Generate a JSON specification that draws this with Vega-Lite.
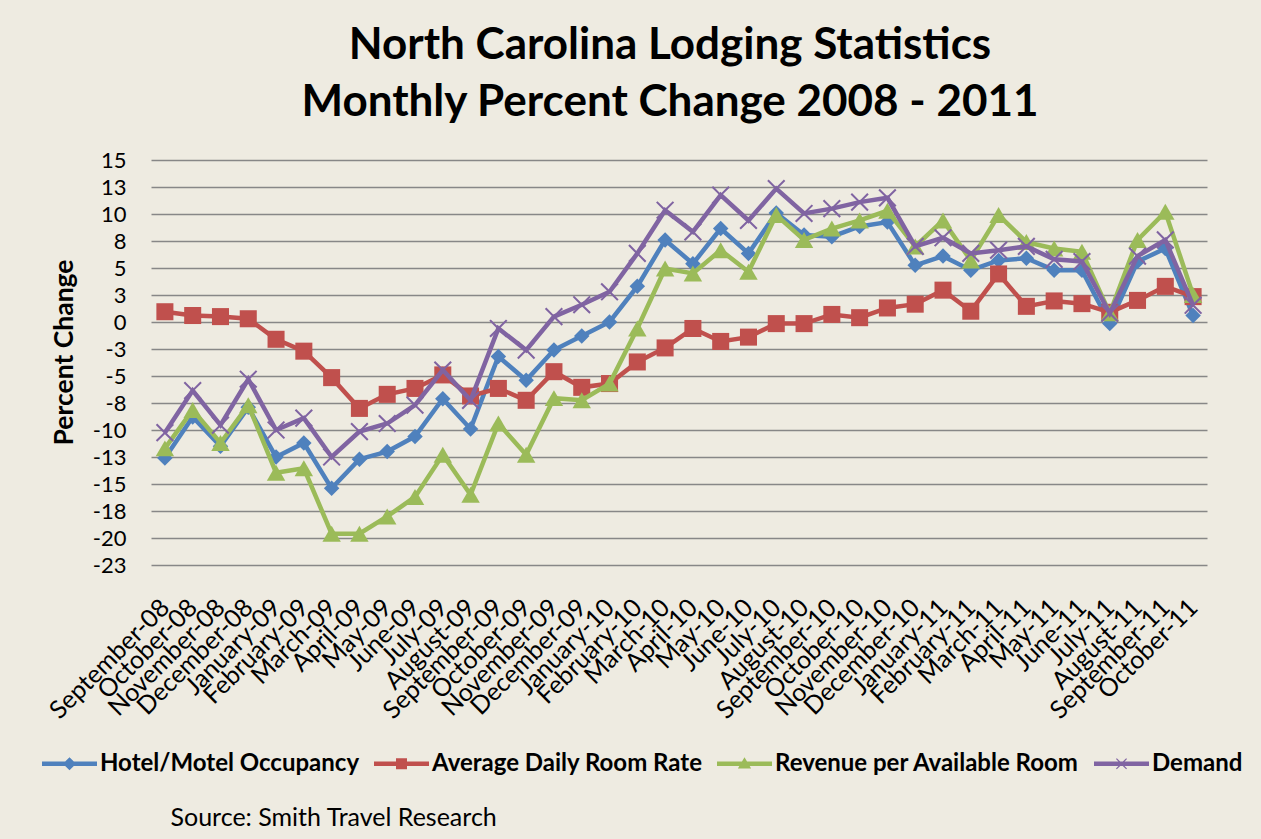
{
  "$schema": "https://vega.github.io/schema/vega-lite/v6.json",
  "width": 1056,
  "height": 405,
  "autosize": {"type": "none"},
  "padding": {"left": 151, "top": 160, "right": 54, "bottom": 274},
  "background": "#EEEBE1",
  "config": {
    "view": {"stroke": null},
    "font": "Lato",
    "legend": {
      "orient": "none",
      "legendX": -109,
      "legendY": 576,
      "direction": "horizontal",
      "padding": 0,
      "title": null,
      "labelFont": "Lato",
      "labelFontSize": 24,
      "labelFontWeight": "bold",
      "labelColor": "#000000",
      "labelLimit": 0,
      "symbolSize": 3025,
      "symbolOpacity": 1,
      "symbolStrokeWidth": 0,
      "columnPadding": 14,
      "labelOffset": 3
    }
  },
  "title": {
    "text": ["North Carolina Lodging Statistics", "Monthly Percent Change 2008 - 2011"],
    "font": "Lato",
    "fontSize": 44,
    "fontWeight": "bold",
    "color": "#000000",
    "anchor": "middle",
    "lineHeight": 57,
    "offset": 24,
    "dx": -9
  },
  "data": {
    "values": [
      {"m": "September-08", "s": "Hotel/Motel Occupancy", "v": -12.6},
      {"m": "October-08", "s": "Hotel/Motel Occupancy", "v": -8.8},
      {"m": "November-08", "s": "Hotel/Motel Occupancy", "v": -11.5},
      {"m": "December-08", "s": "Hotel/Motel Occupancy", "v": -7.9},
      {"m": "January-09", "s": "Hotel/Motel Occupancy", "v": -12.5},
      {"m": "February-09", "s": "Hotel/Motel Occupancy", "v": -11.2},
      {"m": "March-09", "s": "Hotel/Motel Occupancy", "v": -15.4},
      {"m": "April-09", "s": "Hotel/Motel Occupancy", "v": -12.7},
      {"m": "May-09", "s": "Hotel/Motel Occupancy", "v": -12.0},
      {"m": "June-09", "s": "Hotel/Motel Occupancy", "v": -10.6},
      {"m": "July-09", "s": "Hotel/Motel Occupancy", "v": -7.1},
      {"m": "August-09", "s": "Hotel/Motel Occupancy", "v": -9.9},
      {"m": "September-09", "s": "Hotel/Motel Occupancy", "v": -3.2},
      {"m": "October-09", "s": "Hotel/Motel Occupancy", "v": -5.4},
      {"m": "November-09", "s": "Hotel/Motel Occupancy", "v": -2.6},
      {"m": "December-09", "s": "Hotel/Motel Occupancy", "v": -1.3},
      {"m": "January-10", "s": "Hotel/Motel Occupancy", "v": 0.0},
      {"m": "February-10", "s": "Hotel/Motel Occupancy", "v": 3.3},
      {"m": "March-10", "s": "Hotel/Motel Occupancy", "v": 7.6},
      {"m": "April-10", "s": "Hotel/Motel Occupancy", "v": 5.4},
      {"m": "May-10", "s": "Hotel/Motel Occupancy", "v": 8.65},
      {"m": "June-10", "s": "Hotel/Motel Occupancy", "v": 6.35},
      {"m": "July-10", "s": "Hotel/Motel Occupancy", "v": 10.1},
      {"m": "August-10", "s": "Hotel/Motel Occupancy", "v": 8.05},
      {"m": "September-10", "s": "Hotel/Motel Occupancy", "v": 7.9},
      {"m": "October-10", "s": "Hotel/Motel Occupancy", "v": 8.85},
      {"m": "November-10", "s": "Hotel/Motel Occupancy", "v": 9.25},
      {"m": "December-10", "s": "Hotel/Motel Occupancy", "v": 5.25},
      {"m": "January-11", "s": "Hotel/Motel Occupancy", "v": 6.1},
      {"m": "February-11", "s": "Hotel/Motel Occupancy", "v": 4.8},
      {"m": "March-11", "s": "Hotel/Motel Occupancy", "v": 5.7},
      {"m": "April-11", "s": "Hotel/Motel Occupancy", "v": 5.9},
      {"m": "May-11", "s": "Hotel/Motel Occupancy", "v": 4.8},
      {"m": "June-11", "s": "Hotel/Motel Occupancy", "v": 4.8},
      {"m": "July-11", "s": "Hotel/Motel Occupancy", "v": -0.15},
      {"m": "August-11", "s": "Hotel/Motel Occupancy", "v": 5.6},
      {"m": "September-11", "s": "Hotel/Motel Occupancy", "v": 6.8},
      {"m": "October-11", "s": "Hotel/Motel Occupancy", "v": 0.6},
      {"m": "September-08", "s": "Average Daily Room Rate", "v": 0.95},
      {"m": "October-08", "s": "Average Daily Room Rate", "v": 0.6},
      {"m": "November-08", "s": "Average Daily Room Rate", "v": 0.5},
      {"m": "December-08", "s": "Average Daily Room Rate", "v": 0.3},
      {"m": "January-09", "s": "Average Daily Room Rate", "v": -1.6},
      {"m": "February-09", "s": "Average Daily Room Rate", "v": -2.7},
      {"m": "March-09", "s": "Average Daily Room Rate", "v": -5.15},
      {"m": "April-09", "s": "Average Daily Room Rate", "v": -8.0},
      {"m": "May-09", "s": "Average Daily Room Rate", "v": -6.7},
      {"m": "June-09", "s": "Average Daily Room Rate", "v": -6.15},
      {"m": "July-09", "s": "Average Daily Room Rate", "v": -4.9},
      {"m": "August-09", "s": "Average Daily Room Rate", "v": -6.85},
      {"m": "September-09", "s": "Average Daily Room Rate", "v": -6.15},
      {"m": "October-09", "s": "Average Daily Room Rate", "v": -7.25},
      {"m": "November-09", "s": "Average Daily Room Rate", "v": -4.6},
      {"m": "December-09", "s": "Average Daily Room Rate", "v": -6.05},
      {"m": "January-10", "s": "Average Daily Room Rate", "v": -5.7},
      {"m": "February-10", "s": "Average Daily Room Rate", "v": -3.7},
      {"m": "March-10", "s": "Average Daily Room Rate", "v": -2.4},
      {"m": "April-10", "s": "Average Daily Room Rate", "v": -0.6},
      {"m": "May-10", "s": "Average Daily Room Rate", "v": -1.8},
      {"m": "June-10", "s": "Average Daily Room Rate", "v": -1.4},
      {"m": "July-10", "s": "Average Daily Room Rate", "v": -0.15},
      {"m": "August-10", "s": "Average Daily Room Rate", "v": -0.15},
      {"m": "September-10", "s": "Average Daily Room Rate", "v": 0.7},
      {"m": "October-10", "s": "Average Daily Room Rate", "v": 0.4},
      {"m": "November-10", "s": "Average Daily Room Rate", "v": 1.3},
      {"m": "December-10", "s": "Average Daily Room Rate", "v": 1.65},
      {"m": "January-11", "s": "Average Daily Room Rate", "v": 2.95},
      {"m": "February-11", "s": "Average Daily Room Rate", "v": 1.0},
      {"m": "March-11", "s": "Average Daily Room Rate", "v": 4.45},
      {"m": "April-11", "s": "Average Daily Room Rate", "v": 1.45},
      {"m": "May-11", "s": "Average Daily Room Rate", "v": 1.95},
      {"m": "June-11", "s": "Average Daily Room Rate", "v": 1.7},
      {"m": "July-11", "s": "Average Daily Room Rate", "v": 0.9},
      {"m": "August-11", "s": "Average Daily Room Rate", "v": 2.0},
      {"m": "September-11", "s": "Average Daily Room Rate", "v": 3.3},
      {"m": "October-11", "s": "Average Daily Room Rate", "v": 2.35},
      {"m": "September-08", "s": "Revenue per Available Room", "v": -11.7},
      {"m": "October-08", "s": "Revenue per Available Room", "v": -8.15},
      {"m": "November-08", "s": "Revenue per Available Room", "v": -11.2},
      {"m": "December-08", "s": "Revenue per Available Room", "v": -7.7},
      {"m": "January-09", "s": "Revenue per Available Room", "v": -13.95},
      {"m": "February-09", "s": "Revenue per Available Room", "v": -13.55},
      {"m": "March-09", "s": "Revenue per Available Room", "v": -19.6},
      {"m": "April-09", "s": "Revenue per Available Room", "v": -19.6},
      {"m": "May-09", "s": "Revenue per Available Room", "v": -18.0},
      {"m": "June-09", "s": "Revenue per Available Room", "v": -16.2},
      {"m": "July-09", "s": "Revenue per Available Room", "v": -12.3},
      {"m": "August-09", "s": "Revenue per Available Room", "v": -16.0},
      {"m": "September-09", "s": "Revenue per Available Room", "v": -9.4},
      {"m": "October-09", "s": "Revenue per Available Room", "v": -12.3},
      {"m": "November-09", "s": "Revenue per Available Room", "v": -7.05},
      {"m": "December-09", "s": "Revenue per Available Room", "v": -7.25},
      {"m": "January-10", "s": "Revenue per Available Room", "v": -5.7},
      {"m": "February-10", "s": "Revenue per Available Room", "v": -0.6},
      {"m": "March-10", "s": "Revenue per Available Room", "v": 4.95},
      {"m": "April-10", "s": "Revenue per Available Room", "v": 4.5},
      {"m": "May-10", "s": "Revenue per Available Room", "v": 6.65},
      {"m": "June-10", "s": "Revenue per Available Room", "v": 4.65},
      {"m": "July-10", "s": "Revenue per Available Room", "v": 9.9},
      {"m": "August-10", "s": "Revenue per Available Room", "v": 7.6},
      {"m": "September-10", "s": "Revenue per Available Room", "v": 8.65},
      {"m": "October-10", "s": "Revenue per Available Room", "v": 9.4},
      {"m": "November-10", "s": "Revenue per Available Room", "v": 10.3},
      {"m": "December-10", "s": "Revenue per Available Room", "v": 7.0},
      {"m": "January-11", "s": "Revenue per Available Room", "v": 9.4},
      {"m": "February-11", "s": "Revenue per Available Room", "v": 5.7},
      {"m": "March-11", "s": "Revenue per Available Room", "v": 9.9},
      {"m": "April-11", "s": "Revenue per Available Room", "v": 7.4},
      {"m": "May-11", "s": "Revenue per Available Room", "v": 6.8},
      {"m": "June-11", "s": "Revenue per Available Room", "v": 6.5},
      {"m": "July-11", "s": "Revenue per Available Room", "v": 0.8},
      {"m": "August-11", "s": "Revenue per Available Room", "v": 7.6},
      {"m": "September-11", "s": "Revenue per Available Room", "v": 10.2},
      {"m": "October-11", "s": "Revenue per Available Room", "v": 2.5},
      {"m": "September-08", "s": "Demand", "v": -10.25},
      {"m": "October-08", "s": "Demand", "v": -6.35},
      {"m": "November-08", "s": "Demand", "v": -9.55},
      {"m": "December-08", "s": "Demand", "v": -5.3},
      {"m": "January-09", "s": "Demand", "v": -10.0},
      {"m": "February-09", "s": "Demand", "v": -8.9},
      {"m": "March-09", "s": "Demand", "v": -12.5},
      {"m": "April-09", "s": "Demand", "v": -10.15},
      {"m": "May-09", "s": "Demand", "v": -9.4},
      {"m": "June-09", "s": "Demand", "v": -7.7},
      {"m": "July-09", "s": "Demand", "v": -4.45},
      {"m": "August-09", "s": "Demand", "v": -7.25},
      {"m": "September-09", "s": "Demand", "v": -0.6},
      {"m": "October-09", "s": "Demand", "v": -2.6},
      {"m": "November-09", "s": "Demand", "v": 0.5},
      {"m": "December-09", "s": "Demand", "v": 1.6},
      {"m": "January-10", "s": "Demand", "v": 2.8},
      {"m": "February-10", "s": "Demand", "v": 6.35},
      {"m": "March-10", "s": "Demand", "v": 10.35},
      {"m": "April-10", "s": "Demand", "v": 8.35},
      {"m": "May-10", "s": "Demand", "v": 11.75},
      {"m": "June-10", "s": "Demand", "v": 9.4},
      {"m": "July-10", "s": "Demand", "v": 12.35},
      {"m": "August-10", "s": "Demand", "v": 10.05},
      {"m": "September-10", "s": "Demand", "v": 10.5},
      {"m": "October-10", "s": "Demand", "v": 11.1},
      {"m": "November-10", "s": "Demand", "v": 11.5},
      {"m": "December-10", "s": "Demand", "v": 7.0},
      {"m": "January-11", "s": "Demand", "v": 7.8},
      {"m": "February-11", "s": "Demand", "v": 6.35},
      {"m": "March-11", "s": "Demand", "v": 6.65},
      {"m": "April-11", "s": "Demand", "v": 7.0},
      {"m": "May-11", "s": "Demand", "v": 5.8},
      {"m": "June-11", "s": "Demand", "v": 5.6},
      {"m": "July-11", "s": "Demand", "v": 0.8},
      {"m": "August-11", "s": "Demand", "v": 6.1},
      {"m": "September-11", "s": "Demand", "v": 7.6},
      {"m": "October-11", "s": "Demand", "v": 1.55}
    ]
  },
  "encoding": {
    "x": {
      "field": "m",
      "type": "ordinal",
      "sort": null,
      "scale": {
        "type": "point",
        "padding": 0.5,
        "domain": ["September-08", "October-08", "November-08", "December-08", "January-09", "February-09", "March-09", "April-09", "May-09", "June-09", "July-09", "August-09", "September-09", "October-09", "November-09", "December-09", "January-10", "February-10", "March-10", "April-10", "May-10", "June-10", "July-10", "August-10", "September-10", "October-10", "November-10", "December-10", "January-11", "February-11", "March-11", "April-11", "May-11", "June-11", "July-11", "August-11", "September-11", "October-11"]
      },
      "axis": {
        "labelAngle": -45,
        "labelAlign": "right",
        "labelBaseline": "middle",
        "labelFont": "Lato",
        "labelFontSize": 25,
        "labelColor": "#000000",
        "labelPadding": 38,
        "labelOverlap": false,
        "labelLimit": 0,
        "ticks": false,
        "domain": false,
        "grid": false,
        "title": "Source: Smith Travel Research",
        "titleFont": "Lato",
        "titleFontSize": 25,
        "titleFontWeight": "normal",
        "titleColor": "#000000",
        "titleX": 19,
        "titleY": 252,
        "titleAlign": "left",
        "titleBaseline": "middle",
        "titleAnchor": "start"
      }
    },
    "y": {
      "field": "v",
      "type": "quantitative",
      "scale": {"domain": [-22.5, 15], "nice": false, "zero": false},
      "axis": {
        "values": [-22.5, -20, -17.5, -15, -12.5, -10, -7.5, -5, -2.5, 0, 2.5, 5, 7.5, 10, 12.5, 15],
        "labelExpr": "(datum.value < 0 ? '-' : '') + format(abs(datum.value), '.0f')",
        "labelFont": "Lato",
        "labelFontSize": 22,
        "labelColor": "#000000",
        "labelPadding": 25,
        "ticks": false,
        "domain": false,
        "grid": true,
        "gridColor": "#878787",
        "gridWidth": 1.5,
        "title": "Percent Change",
        "titleFont": "Lato",
        "titleFontSize": 26.5,
        "titleFontWeight": "bold",
        "titleColor": "#000000",
        "titleAngle": -90,
        "titleX": -87,
        "titleY": 192,
        "titleAlign": "center",
        "titleBaseline": "middle"
      }
    },
    "color": {
      "field": "s",
      "type": "nominal",
      "scale": {
        "domain": ["Hotel/Motel Occupancy", "Average Daily Room Rate", "Revenue per Available Room", "Demand"],
        "range": ["#4F81BD", "#C0504D", "#9BBB59", "#8064A2"]
      }
    }
  },
  "layer": [
    {
      "transform": [{"filter": "datum.m === 'September-08'"}],
      "mark": {"type": "point", "filled": true, "opacity": 0},
      "encoding": {
        "shape": {
          "field": "s",
          "type": "nominal",
          "scale": {
            "domain": ["Hotel/Motel Occupancy", "Average Daily Room Rate", "Revenue per Available Room", "Demand"],
            "range": [
              "M-1,-0.08H1V0.08H-1ZM0,-0.24L0.24,0L0,0.24L-0.24,0Z",
              "M-1,-0.08H1V0.08H-1ZM-0.2,-0.2H0.2V0.2H-0.2Z",
              "M-1,-0.08H1V0.08H-1ZM0,-0.24L0.24,0.17H-0.24Z",
              "M-1,-0.08H1V0.08H-1ZM-0.2,-0.17L-0.17,-0.2L0,-0.035L0.17,-0.2L0.2,-0.17L0.035,0L0.2,0.17L0.17,0.2L0,0.035L-0.17,0.2L-0.2,0.17L-0.035,0Z"
            ]
          }
        }
      }
    },
    {
      "transform": [{"filter": "datum.s === 'Hotel/Motel Occupancy'"}],
      "layer": [
        {"mark": {"type": "line", "strokeWidth": 4.5}},
        {"mark": {"type": "point", "shape": "diamond", "filled": true, "size": 240, "opacity": 1}}
      ]
    },
    {
      "transform": [{"filter": "datum.s === 'Average Daily Room Rate'"}],
      "layer": [
        {"mark": {"type": "line", "strokeWidth": 4.5}},
        {"mark": {"type": "point", "shape": "square", "filled": true, "size": 290, "opacity": 1}}
      ]
    },
    {
      "transform": [{"filter": "datum.s === 'Revenue per Available Room'"}],
      "layer": [
        {"mark": {"type": "line", "strokeWidth": 4.5}},
        {"mark": {"type": "point", "shape": "triangle-up", "filled": true, "size": 340, "opacity": 1}}
      ]
    },
    {
      "transform": [{"filter": "datum.s === 'Demand'"}],
      "layer": [
        {"mark": {"type": "line", "strokeWidth": 4.5}},
        {"mark": {"type": "point", "shape": "M-1,-0.84L-0.84,-1L0,-0.16L0.84,-1L1,-0.84L0.16,0L1,0.84L0.84,1L0,0.16L-0.84,1L-1,0.84L-0.16,0Z", "filled": true, "size": 330, "opacity": 1}}
      ]
    },
    {
      "data": {"values": [{}]},
      "mark": {"type": "rule", "color": "#000000", "opacity": 0.15, "strokeWidth": 5, "xOffset": 2, "x2Offset": 35, "yOffset": 3},
      "encoding": {
        "x": {"datum": "September-08", "type": "ordinal"},
        "x2": {"datum": "October-11"},
        "y": {"datum": 0, "type": "quantitative"},
        "color": null
      }
    },
    {
      "data": {"values": [{}]},
      "mark": {"type": "rule", "color": "#7F7F7F", "strokeWidth": 4.5, "x2Offset": 33},
      "encoding": {
        "x": {"datum": "September-08", "type": "ordinal"},
        "x2": {"datum": "October-11"},
        "y": {"datum": 0, "type": "quantitative"},
        "color": null
      }
    }
  ]
}
